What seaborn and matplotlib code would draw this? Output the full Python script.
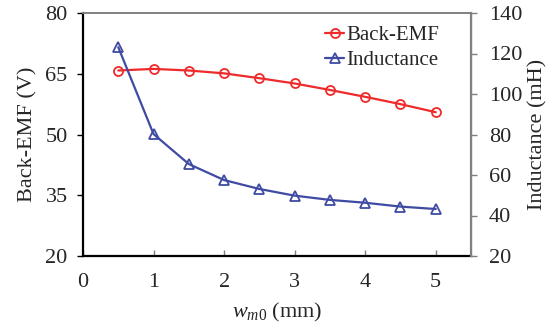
import matplotlib
matplotlib.use("Agg")
import matplotlib.pyplot as plt
import seaborn as sns
import pandas as pd

wm0 = [0.5, 1.0, 1.5, 2.0, 2.5, 3.0, 3.5, 4.0, 4.5, 5.0]
back_emf = [65.8, 66.2, 65.8, 65.1, 63.9, 62.6, 61.0, 59.3, 57.5, 55.5]
inductance = [123.1, 80.2, 65.4, 57.5, 53.1, 49.8, 47.7, 46.3, 44.4, 43.2]

left_ticks = [20, 35, 50, 65, 80]
right_ticks = [20, 40, 60, 80, 100, 120, 140]
x_ticks = [0, 1, 2, 3, 4, 5]

red = "#EE2A2A"
blue = "#3F4BA3"

sns.set_style("white")
plt.rcParams['font.family'] = ['Liberation Serif', 'DejaVu Serif']
plt.rcParams['mathtext.fontset'] = 'custom'
plt.rcParams['mathtext.it'] = 'Liberation Serif:italic'
plt.rcParams['mathtext.rm'] = 'Liberation Serif'

df = pd.DataFrame({"w": wm0, "emf": back_emf, "ind": inductance})

fig = plt.figure(figsize=(5.57, 3.24), dpi=100)
ax = fig.add_axes([83/557, 1 - 256/324, (471-83)/557, (256-13)/324])
ax2 = ax.twinx()

fs = 16
sns.lineplot(data=df, x="w", y="emf", ax=ax, color=red, marker="o", markersize=6.5,
             markerfacecolor="none", markeredgecolor=red, markeredgewidth=1.3,
             linewidth=1.6, label="Back-EMF", legend=False)
sns.lineplot(data=df, x="w", y="ind", ax=ax2, color=blue, marker="^", markersize=6.5,
             markerfacecolor="none", markeredgecolor=blue, markeredgewidth=1.3,
             linewidth=1.6, label="Inductance", legend=False)

ax.set_xlim(0, 5.5)
ax.set_ylim(20, 80)
ax2.set_ylim(20, 140)
ax.set_xticks(x_ticks)
ax.set_yticks(left_ticks)
ax2.set_yticks(right_ticks)
ax.set_xticklabels([str(t) for t in x_ticks], fontsize=fs)
ax.set_yticklabels([str(t) for t in left_ticks], fontsize=fs)
ax2.set_yticklabels([str(t) for t in right_ticks], fontsize=fs)

ax.set_xlabel(r"$w_{\mathit{m0}}$ (mm)", fontsize=fs, labelpad=7)
ax.set_ylabel("Back-EMF (V)", fontsize=fs, labelpad=6)
ax2.set_ylabel("Inductance (mH)", fontsize=fs, labelpad=4)

for a in (ax, ax2):
    for s in a.spines.values():
        s.set_visible(True)
ax.spines['left'].set_color('black'); ax.spines['left'].set_linewidth(1.6)
ax.spines['bottom'].set_color('black'); ax.spines['bottom'].set_linewidth(1.6)
ax.spines['top'].set_color('#808080'); ax.spines['top'].set_linewidth(1.2)
ax2.spines['right'].set_color('#808080'); ax2.spines['right'].set_linewidth(1.6)
ax2.spines['top'].set_color('#808080'); ax2.spines['top'].set_linewidth(1.2)
ax2.spines['left'].set_visible(False)
ax2.spines['bottom'].set_visible(False)

ax.tick_params(axis='x', direction='in', length=4, color='#808080', width=1, pad=12)
ax.tick_params(axis='y', direction='out', length=4, color='black', width=1, pad=7)
ax2.tick_params(axis='y', direction='out', length=4, color='#808080', width=1, pad=9)
ax.tick_params(axis='y', left=True)
ax.tick_params(axis='x', bottom=True)
ax2.tick_params(axis='y', right=True)

h1, l1 = ax.get_legend_handles_labels()
h2, l2 = ax2.get_legend_handles_labels()
leg = ax2.legend(h1 + h2, l1 + l2, loc='upper right', fontsize=15, frameon=False,
                 handlelength=0.9, handletextpad=0.1, borderaxespad=0.2,
                 labelspacing=0.25, bbox_to_anchor=(0.95, 1.0))

fig.savefig("out.png", dpi=100)
